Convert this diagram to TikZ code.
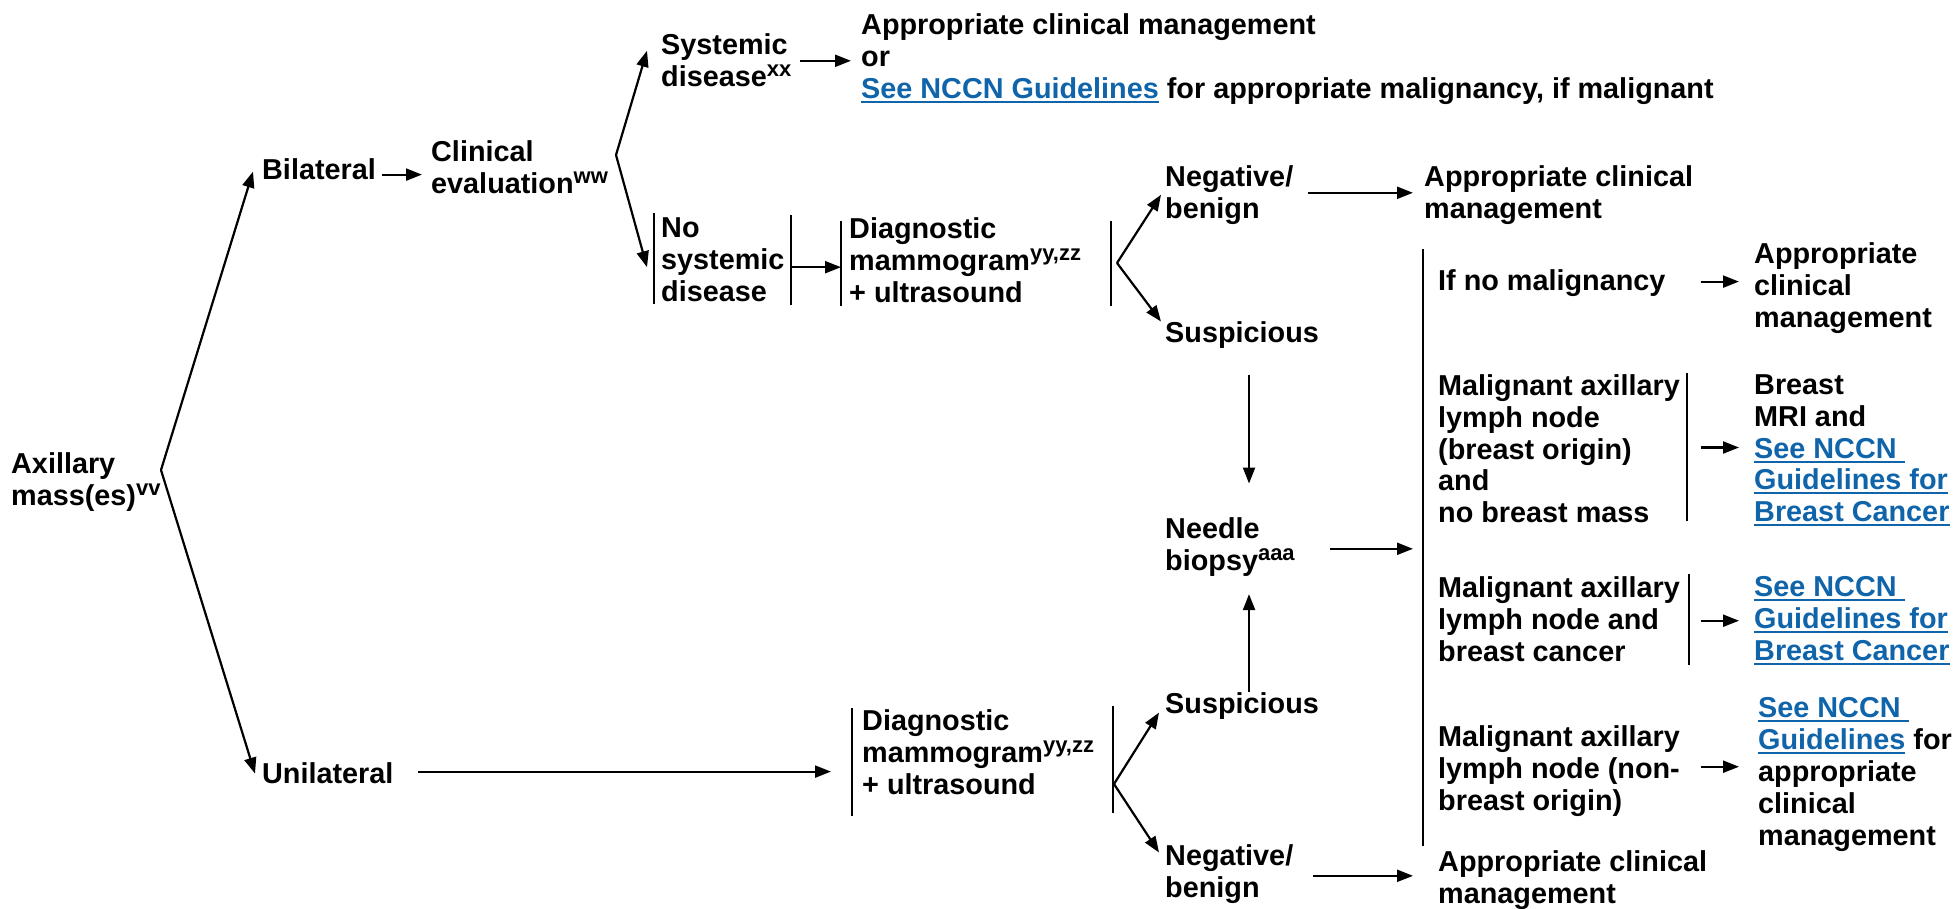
\documentclass[tikz,border=0pt]{standalone}
\usepackage{fontspec}
\setmainfont{Liberation Sans}
\usepackage{tikz}
\usetikzlibrary{arrows.meta}
\definecolor{nccnblue}{RGB}{16,100,170}
\newcommand{\lnk}[1]{{\color{nccnblue}\setbox0=\hbox{#1}\rlap{\rule[-4.5pt]{\wd0}{2pt}}\box0}}
\newcommand{\sps}[1]{\raisebox{9.5pt}{\fontsize{22}{22}\selectfont #1}}

\begin{document}
\begin{tikzpicture}[x=1pt, y=-1pt,
  txt/.style={anchor=north west, yshift=19.5pt, inner sep=0pt, align=left,
    font=\fontsize{28.8}{31.8}\selectfont\bfseries, execute at begin node=\strut},
  arr/.style={line width=2.2pt, -{Triangle[length=16pt, width=12pt]}},
  bar/.style={line width=1.8pt}]
\useasboundingbox (0,0) rectangle (1957,908);
% first column
\node [txt] (ax) at (11,472) {Axillary\\mass(es)\sps{vv}};
\node [txt] (bil) at (262,177) {Bilateral};
\node [txt] (uni) at (262,781) {Unilateral};
\node [txt] (clin) at (431,160) {Clinical\\evaluation\sps{ww}};
% bilateral branch
\node [txt] (sys) at (661,53) {Systemic\\disease\sps{xx}};
\node [txt] (sysout) at (861,33) {Appropriate clinical management\\or\\\lnk{See NCCN Guidelines} for appropriate malignancy, if malignant};
\node [txt] (nosys) at (661,237) {No\\systemic\\disease};
\node [txt] (dg1) at (849,237) {Diagnostic\\mammogram\sps{yy,zz}\\+ ultrasound};
\node [txt] (neg1) at (1165,185) {Negative/\\benign};
\node [txt] (app1) at (1424,185) {Appropriate clinical\\management};
\node [txt] (sus1) at (1165,340) {Suspicious};
% unilateral branch
\node [txt] (dg2) at (862,729) {Diagnostic\\mammogram\sps{yy,zz}\\+ ultrasound};
\node [txt] (sus2) at (1165,711) {Suspicious};
\node [txt] (neg2) at (1165,864) {Negative/\\benign};
\node [txt] (app2) at (1438,870) {Appropriate clinical\\management};
\node [txt] (needle) at (1165,537) {Needle\\biopsy\sps{aaa}};
% biopsy results
\node [txt] (nomal) at (1438,288) {If no malignancy};
\node [txt] (nomalout) at (1754,262) {Appropriate\\clinical\\management};
\node [txt] (mal1) at (1438,394) {Malignant axillary\\lymph node\\(breast origin)\\and\\no breast mass};
\node [txt] (mal1out) at (1754,394) {Breast\\MRI and\\\lnk{See NCCN\ }\\\lnk{Guidelines for}\\\lnk{Breast Cancer}};
\node [txt] (mal2) at (1438,596) {Malignant axillary\\lymph node and\\breast cancer};
\node [txt] (mal2out) at (1754,596) {\lnk{See NCCN\ }\\\lnk{Guidelines for}\\\lnk{Breast Cancer}};
\node [txt] (mal3) at (1438,745) {Malignant axillary\\lymph node (non-\\breast origin)};
\node [txt] (mal3out) at (1758,717) {\lnk{See NCCN\ }\\\lnk{Guidelines} for\\appropriate\\clinical\\management};
% bars
\draw [bar] (654,213) -- (654,304);
\draw [bar] (791,215) -- (791,305);
\draw [bar] (841,221) -- (841,306);
\draw [bar] (1111,221) -- (1111,306);
\draw [bar] (852,708) -- (852,816);
\draw [bar] (1113,706) -- (1113,813);
\draw [bar] (1423,249) -- (1423,846);
\draw [bar] (1687,373) -- (1687,521);
\draw [bar] (1689,574) -- (1689,665);
% branch points
\coordinate (axb) at (161,470);
\coordinate (clb) at (616,155);
\coordinate (d1b) at (1117,263);
\coordinate (d2b) at (1114,784);
% arrows
\draw [arr] (axb) -- ([xshift=-9pt,yshift=2pt]bil.west);
\draw [arr] (axb) -- ([xshift=-7pt,yshift=4pt]uni.west);
\draw [arr, shorten <=6pt, shorten >=9pt] ([yshift=-1pt]bil.east) -- ([yshift=-1pt]bil.east -| clin.west);
\draw [arr] (clb) -- ([xshift=-14pt,yshift=14pt]sys.west);
\draw [arr] (clb) -- ([xshift=-14pt,yshift=-3pt]nosys.west);
\draw [arr, shorten <=8pt, shorten >=10pt] ([yshift=4pt]sys.east) -- ([yshift=4pt]sys.east -| sysout.west);
\draw [arr, shorten <=7pt, shorten >=8pt] ([yshift=-3pt]nosys.east) -- ([yshift=-3pt]nosys.east -| dg1.west);
\draw [arr] (d1b) -- ([xshift=-4pt,yshift=2pt]neg1.west);
\draw [arr] (d1b) -- ([xshift=-4pt,yshift=-1pt]sus1.north west);
\draw [arr, shorten <=15pt, shorten >=11pt] ([yshift=4pt]neg1.east) -- ([yshift=4pt]neg1.east -| app1.west);
\draw [arr, shorten <=22pt, shorten >=34pt] ([xshift=7pt]sus1.south) -- ([xshift=7pt]sus1.south |- needle.north);
\draw [arr, shorten >=14pt] ([xshift=7pt]sus2.north) -- ([xshift=7pt]sus2.north |- needle.south);
\draw [arr, shorten <=35pt, shorten >=25pt] (needle.east) -- (needle.east -| mal1.west);
\draw [arr, shorten <=24pt, shorten >=31pt] ([yshift=6pt]uni.east) -- ([yshift=6pt]uni.east -| dg2.west);
\draw [arr] (d2b) -- ([xshift=-6pt,yshift=-5pt]sus2.west);
\draw [arr] (d2b) -- ([xshift=-6pt,yshift=-8pt]neg2.north west);
\draw [arr, shorten <=20pt, shorten >=25pt] (neg2.east) -- (neg2.east -| app2.west);
\draw [arr, shorten <=35pt, shorten >=15pt] ([yshift=3pt]nomal.east) -- ([yshift=3pt]nomal.east -| nomalout.west);
\draw [arr, shorten <=21pt, shorten >=15pt] ([yshift=6pt]mal1.east) -- ([yshift=6pt]mal1.east -| mal1out.west);
\draw [arr, shorten <=21pt, shorten >=15pt] ([yshift=3pt]mal2.east) -- ([yshift=3pt]mal2.east -| mal2out.west);
\draw [arr, shorten <=21pt, shorten >=19pt] ([yshift=6pt]mal3.east) -- ([yshift=6pt]mal3.east -| mal3out.west);
\end{tikzpicture}
\end{document}
